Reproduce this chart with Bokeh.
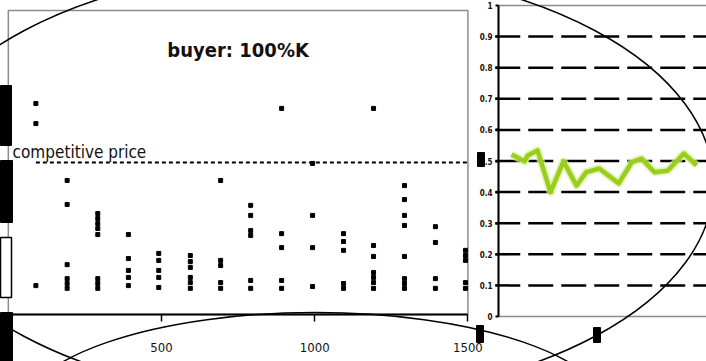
from bokeh.plotting import figure
from bokeh.models import Range1d, LinearAxis, FixedTicker, Label
from bokeh.embed import file_html
from bokeh.resources import INLINE

# ---------------- data ----------------
# left panel: individual transaction prices over time (buyer: 100%K)
trade_time = (
    [90, 90, 90]
    + [192, 192, 192, 192, 192, 192]
    + [292, 292, 292, 292, 292, 292, 292, 292]
    + [392, 392, 392, 392, 392]
    + [491, 491, 491, 491, 491]
    + [594, 594, 594, 594, 594, 594]
    + [693, 693, 693, 693, 693]
    + [791, 791, 791, 791, 791, 791]
    + [892, 892, 892, 892, 892]
    + [993, 993, 993, 993]
    + [1094, 1094, 1094, 1094, 1094]
    + [1192, 1192, 1192, 1192, 1192, 1192, 1192]
    + [1293, 1293, 1293, 1293, 1293, 1293, 1293, 1293]
    + [1394, 1394, 1394, 1394]
    + [1492, 1492, 1492, 1492, 1492]
)
trade_price = (
    [0.694, 0.628, 0.095]
    + [0.441, 0.362, 0.164, 0.118, 0.102, 0.086]
    + [0.332, 0.316, 0.299, 0.283, 0.263, 0.118, 0.102, 0.086]
    + [0.263, 0.184, 0.145, 0.122, 0.095]
    + [0.201, 0.178, 0.145, 0.122, 0.089]
    + [0.194, 0.174, 0.155, 0.122, 0.105, 0.086]
    + [0.441, 0.178, 0.161, 0.105, 0.086]
    + [0.359, 0.326, 0.276, 0.260, 0.112, 0.086]
    + [0.678, 0.266, 0.220, 0.112, 0.086]
    + [0.497, 0.326, 0.220, 0.092]
    + [0.266, 0.240, 0.211, 0.102, 0.086]
    + [0.678, 0.227, 0.191, 0.138, 0.122, 0.105, 0.086]
    + [0.424, 0.378, 0.326, 0.293, 0.191, 0.118, 0.102, 0.086]
    + [0.289, 0.237, 0.118, 0.086]
    + [0.211, 0.194, 0.178, 0.105, 0.086]
)
competitive_price = 0.5
time_ticks = [500, 1000, 1500]
time_tick_labels = ["500", "1000", "1500"]
panel_title = "buyer: 100%K"
price_note = "competitive price"

# right panel: green series
share_period = [2, 4, 4.5, 6, 8, 10, 12, 13.5, 15.5, 16.5, 18.5, 20.5, 22, 24, 26, 26.5, 28.5, 30.5]
share_value = [0.521, 0.499, 0.518, 0.534, 0.400, 0.499, 0.421, 0.464, 0.476, 0.460,
               0.428, 0.496, 0.508, 0.464, 0.469, 0.479, 0.524, 0.486]
share_ticks = [0, 0.1, 0.2, 0.3, 0.4, 0.5, 0.6, 0.7, 0.8, 0.9, 1]
share_tick_labels = ["0", "0.1", "0.2", "0.3", "0.4", "0.5", "0.6", "0.7", "0.8", "0.9", "1"]
share_grid = [0.1, 0.2, 0.3, 0.4, 0.5, 0.6, 0.7, 0.8, 0.9]

# decorative scan artefacts (canvas pixel units)
box_left = [0, 0, 0, 477, 476, 593]
box_right = [11, 12, 12, 484, 483, 600]
box_top = [85, 160, 312, 152, 325, 327]
box_bottom = [145, 222, 361, 166, 342, 342]
ring_x = [309, 315]
ring_y = [183, 414]
ring_w = [808, 590]
ring_h = [432, 204]

NARROW = "DejaVu Sans Condensed, Liberation Sans, sans-serif"

# ---------------- figure ----------------
p = figure(width=706, height=361, x_range=Range1d(0, 706), y_range=Range1d(361, 0),
           output_backend="svg", toolbar_location=None,
           x_axis_type=None, y_axis_type=None, min_border=0,
           outline_line_color=None, background_fill_color="white")
p.extra_x_ranges = {"t": Range1d(-25.5, 2278.7), "period": Range1d(-76.615, 32.0)}
p.extra_y_ranges = {"price": Range1d(-0.1546, 1.0329), "share": Range1d(-0.1447, 1.0161)}

# left panel frame
p.quad(left=[0], right=[time_ticks[-1]], bottom=[0], top=[1.0],
       fill_color=None, line_color="#8c8c8c", line_width=1.5,
       x_range_name="t", y_range_name="price")
# right panel frame
p.quad(left=[0], right=[40], bottom=[0], top=[1.0],
       fill_color=None, line_color="#8c8c8c", line_width=1.5,
       x_range_name="period", y_range_name="share")

# dashed grid lines of the right panel
p.segment(x0=[-0.5] * len(share_grid), x1=[40] * len(share_grid),
          y0=share_grid, y1=share_grid, line_color="black", line_width=2.5,
          line_dash="25 8", x_range_name="period", y_range_name="share")

# competitive price line
p.segment(x0=[trade_time[0]], x1=[time_ticks[-1]], y0=[competitive_price], y1=[competitive_price],
          line_color="black", line_width=2, line_dash="4 3",
          x_range_name="t", y_range_name="price")

# transaction prices
p.scatter(trade_time, trade_price, marker="square", size=4, fill_color="black",
          line_color="black", x_range_name="t", y_range_name="price")

# green series
p.line(share_period, share_value, line_color="#d6ee9c", line_width=8, line_alpha=0.7,
       line_join="round", x_range_name="period", y_range_name="share")
p.line(share_period, share_value, line_color="#9acd1c", line_width=4.5,
       line_join="round", x_range_name="period", y_range_name="share")

# texts
p.add_layout(Label(x=750, y=0.87, x_range_name="t", y_range_name="price", text=panel_title,
                   text_font=NARROW, text_font_size="20px", text_font_style="bold",
                   text_align="center", text_baseline="middle", text_color="#111111"))
p.add_layout(Label(x=14, y=0.536, x_range_name="t", y_range_name="price", text=price_note,
                   text_font=NARROW, text_font_size="17px", text_font_style="normal",
                   text_align="left", text_baseline="alphabetic", text_color="#111111"))

# axes
xa = LinearAxis(x_range_name="t", y_range_name="price", fixed_location=0,
                ticker=FixedTicker(ticks=time_ticks),
                major_label_overrides=dict(zip(time_ticks, time_tick_labels)),
                bounds=(0, time_ticks[-1]), axis_line_width=2, axis_line_color="black",
                major_tick_in=0, major_tick_out=7, major_tick_line_width=1.5,
                minor_tick_out=0, minor_tick_in=0,
                major_label_text_font=NARROW, major_label_text_font_size="13px",
                major_label_standoff=21, major_label_text_color="#111111")
p.add_layout(xa, "below")

ya = LinearAxis(x_range_name="period", y_range_name="share", fixed_location=0,
                ticker=FixedTicker(ticks=share_ticks),
                major_label_overrides=dict(zip(share_ticks, share_tick_labels)),
                bounds=(0, 1), axis_line_width=2, axis_line_color="black",
                major_tick_in=0, major_tick_out=3, major_tick_line_width=2,
                minor_tick_out=0, minor_tick_in=0,
                major_label_text_font=NARROW, major_label_text_font_size="8px",
                major_label_text_font_style="bold", major_label_standoff=3,
                major_label_text_color="#111111")
p.add_layout(ya, "left")

# artefacts
p.quad(left=box_left, right=box_right, top=box_top, bottom=box_bottom,
       fill_color="black", line_color="black", level="overlay")
p.quad(left=[0], right=[11], top=[237], bottom=[297], fill_color="white",
       line_color="black", line_width=1.5, level="overlay")
p.ellipse(x=ring_x, y=ring_y, width=ring_w, height=ring_h, fill_color=None,
          line_color="black", line_width=1.5, level="overlay")

open("out.html", "w").write(file_html(p, INLINE))
